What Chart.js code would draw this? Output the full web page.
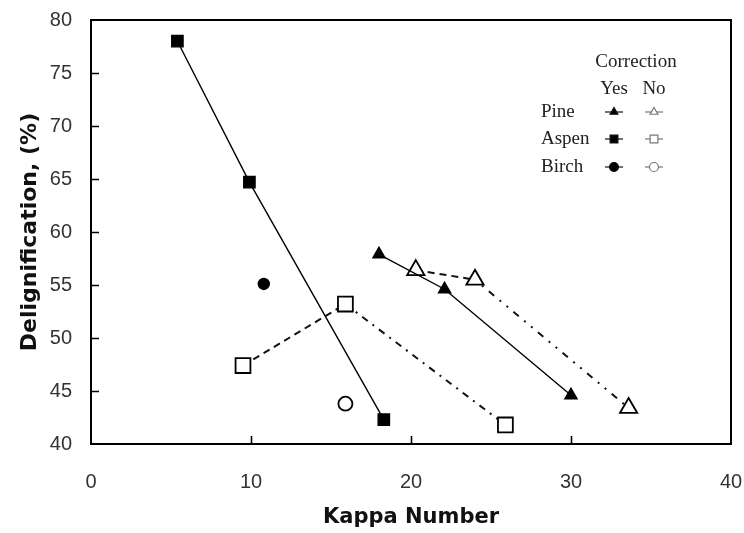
<!DOCTYPE html>
<html>
<head>
<meta charset="utf-8">
<script src="https://cdn.jsdelivr.net/npm/chart.js@4/dist/chart.umd.min.js"></script>
<style>
  body { margin: 0; background: #fff; }
  canvas { display: block; }
</style>
</head>
<body>
<canvas id="delignChart" width="744" height="533"></canvas>
<script>
// delignification vs kappa number
const pineYesKappa = [18.0, 22.1, 30.0];
const pineYesDelig = [57.9, 54.6, 44.6];
const pineNoKappa = [20.3, 24.0, 33.6];
const pineNoDelig = [56.4, 55.5, 43.4];

const aspenYesKappa = [5.4, 9.9, 18.3];
const aspenYesDelig = [78.0, 64.7, 42.3];
const aspenNoKappa = [9.5, 15.9, 25.9];
const aspenNoDelig = [47.4, 53.2, 41.8];

const birchYesKappa = [10.8];
const birchYesDelig = [55.1];
const birchNoKappa = [15.9];
const birchNoDelig = [43.8];

const legendTitle = "Correction";
const legendCols = ["Yes", "No"];
const legendRows = ["Pine", "Aspen", "Birch"];
const legendStyles = ["triangle", "rect", "circle"];

const xTitle = "Kappa Number";
const yTitle = "Delignification, (%)";

function toPoints(xs, ys) {
    return xs.map((x, i) => ({ x: x, y: ys[i] }));
}

// frame box + inward tick marks
const frameTicks = {
    id: 'frameTicks',
    beforeDatasetsDraw(chart) {
        const ctx = chart.ctx;
        const a = chart.chartArea;
        const xs = chart.scales.x, ys = chart.scales.y;
        ctx.save();
        ctx.strokeStyle = '#000';
        ctx.lineWidth = 2;
        ctx.strokeRect(a.left, a.top, a.right - a.left, a.bottom - a.top);
        ctx.lineWidth = 1.6;
        ctx.beginPath();
        ys.ticks.forEach(t => {
            if (t.value <= ys.min || t.value >= ys.max) return;
            const py = Math.round(ys.getPixelForValue(t.value)) + 0.5;
            ctx.moveTo(a.left, py);
            ctx.lineTo(a.left + 8, py);
        });
        xs.ticks.forEach(t => {
            if (t.value <= xs.min || t.value >= xs.max) return;
            const px = Math.round(xs.getPixelForValue(t.value)) + 0.5;
            ctx.moveTo(px, a.bottom);
            ctx.lineTo(px, a.bottom - 8);
        });
        ctx.stroke();
        ctx.restore();
    }
};

// the little in-plot legend table
const cornerLegend = {
    id: 'cornerLegend',
    afterDraw(chart) {
        const ctx = chart.ctx;
        const colX = [614, 654];
        const rowY = [112, 139, 167];
        ctx.save();
        ctx.fillStyle = '#222';
        ctx.font = '19px "Liberation Serif", "Times New Roman", serif';
        ctx.textBaseline = 'middle';
        ctx.textAlign = 'center';
        ctx.fillText(legendTitle, 636, 62);
        legendCols.forEach((c, i) => ctx.fillText(c, colX[i], 89));
        ctx.textAlign = 'left';
        legendRows.forEach((r, i) => ctx.fillText(r, 541, rowY[i]));

        legendRows.forEach((r, i) => {
            legendCols.forEach((c, j) => {
                const col = j === 0 ? '#111' : '#777';
                ctx.strokeStyle = col;
                ctx.lineWidth = 1.2;
                ctx.setLineDash([]);
                ctx.beginPath();
                ctx.moveTo(colX[j] - 9, rowY[i]);
                ctx.lineTo(colX[j] + 9, rowY[i]);
                ctx.stroke();
                ctx.fillStyle = j === 0 ? '#000' : '#fff';
                Chart.helpers.drawPoint(ctx, {
                    pointStyle: legendStyles[i],
                    radius: legendStyles[i] === 'rect' ? 5.5 : 4.5,
                    rotation: 0,
                    borderWidth: 1.2
                }, colX[j], rowY[i]);
            });
        });
        ctx.restore();
    }
};

const solidLine = { borderColor: '#000', borderWidth: 1.4, pointBorderColor: '#000', pointBackgroundColor: '#000' };
const dashLine = { borderColor: '#111', borderWidth: 2, borderDash: [7, 5], pointBorderColor: '#000', pointBackgroundColor: '#fff', pointBorderWidth: 1.8 };

// first leg dashed, second leg dash-dot (as in the original figure)
const dashDotSecond = { borderDash: ctx => ctx.p0DataIndex === 0 ? [7, 5] : [7, 6, 2, 6] };
const dotSecond = { borderDash: ctx => ctx.p0DataIndex === 0 ? [7, 5] : [2, 7, 2, 7, 7, 7] };

new Chart(document.getElementById('delignChart').getContext('2d'), {
    type: 'scatter',
    data: {
        datasets: [
            Object.assign({ label: 'Pine Yes', data: toPoints(pineYesKappa, pineYesDelig), showLine: true, pointStyle: 'triangle', pointRadius: 7 }, solidLine),
            Object.assign({ label: 'Pine No', data: toPoints(pineNoKappa, pineNoDelig), showLine: true, pointStyle: 'triangle', pointRadius: 10, segment: dotSecond }, dashLine),
            Object.assign({ label: 'Aspen Yes', data: toPoints(aspenYesKappa, aspenYesDelig), showLine: true, pointStyle: 'rect', pointRadius: 8 }, solidLine),
            Object.assign({ label: 'Aspen No', data: toPoints(aspenNoKappa, aspenNoDelig), showLine: true, pointStyle: 'rect', pointRadius: 10.5, segment: dashDotSecond }, dashLine),
            Object.assign({ label: 'Birch Yes', data: toPoints(birchYesKappa, birchYesDelig), showLine: false, pointStyle: 'circle', pointRadius: 5.5 }, solidLine),
            Object.assign({ label: 'Birch No', data: toPoints(birchNoKappa, birchNoDelig), showLine: false, pointStyle: 'circle', pointRadius: 7, pointBorderWidth: 1.6 }, dashLine)
        ]
    },
    options: {
        responsive: false,
        animation: false,
        layout: { padding: { top: 20, right: 13, left: 0, bottom: 0 } },
        plugins: {
            legend: { display: false },
            tooltip: { enabled: false }
        },
        scales: {
            x: {
                type: 'linear',
                min: 0,
                max: 40,
                afterFit(scale) {
                    scale.height = 89;
                    scale.paddingLeft = 0;
                    scale.paddingRight = 0;
                },
                border: { display: false },
                grid: { display: false, drawTicks: false },
                ticks: {
                    stepSize: 10,
                    padding: 26,
                    color: '#333',
                    font: { family: '"Liberation Sans", Arial, sans-serif', size: 20 }
                },
                title: {
                    display: true,
                    text: xTitle,
                    color: '#111',
                    padding: { top: 0, bottom: 3 },
                    font: { family: '"DejaVu Sans", sans-serif', size: 21, weight: 'bold' }
                }
            },
            y: {
                type: 'linear',
                min: 40,
                max: 80,
                afterFit(scale) {
                    scale.width = 91;
                    scale.paddingTop = 0;
                    scale.paddingBottom = 0;
                },
                border: { display: false },
                grid: { display: false, drawTicks: false },
                ticks: {
                    stepSize: 5,
                    padding: 19,
                    color: '#333',
                    font: { family: '"Liberation Sans", Arial, sans-serif', size: 20 }
                },
                title: {
                    display: true,
                    text: yTitle,
                    color: '#111',
                    padding: { top: 17, bottom: 0 },
                    font: { family: '"DejaVu Sans", sans-serif', size: 22, weight: 'bold' }
                }
            }
        }
    },
    plugins: [frameTicks, cornerLegend]
});
</script>
</body>
</html>
